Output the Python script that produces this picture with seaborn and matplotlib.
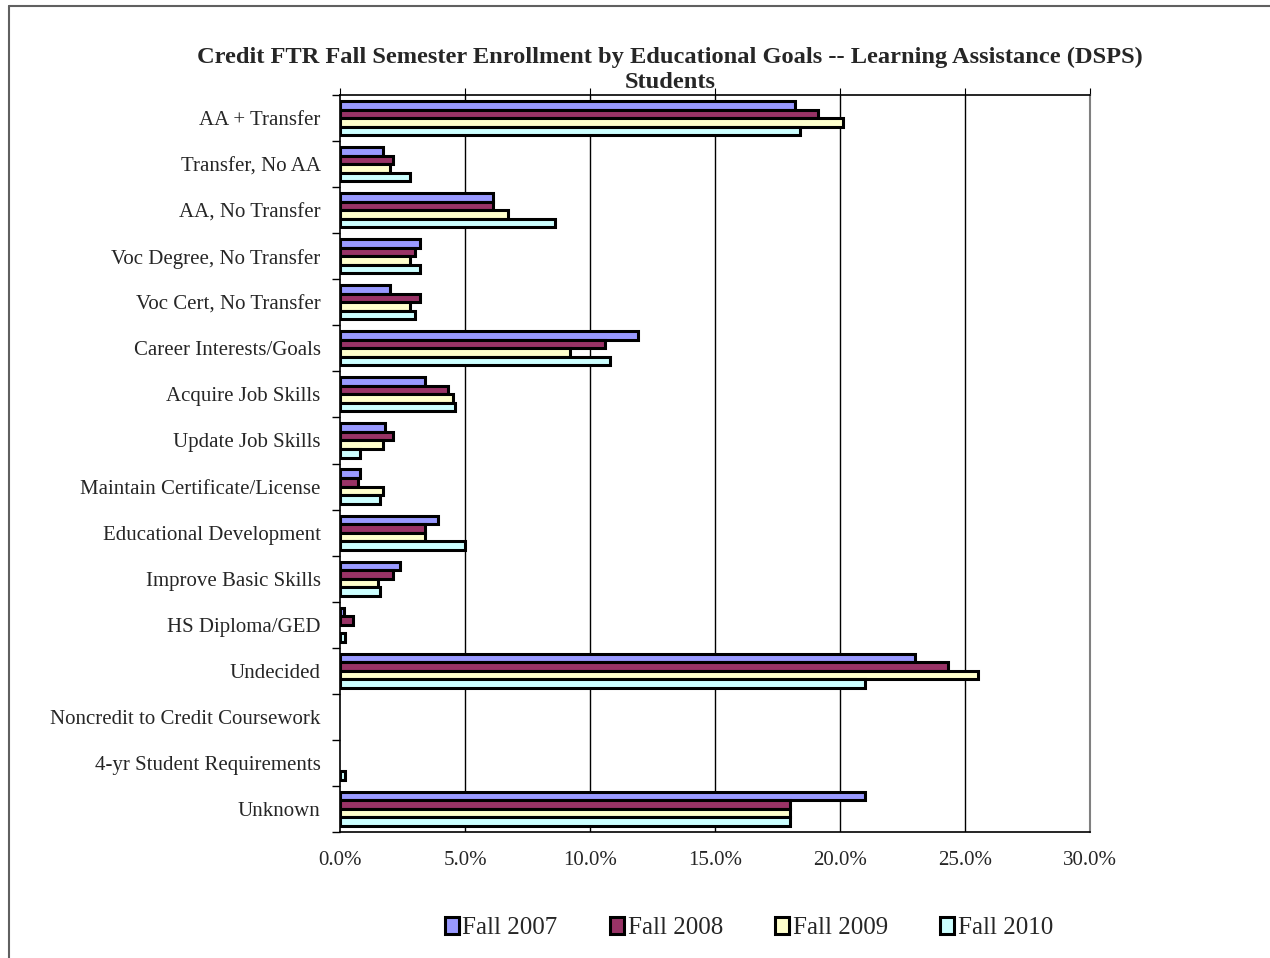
import matplotlib
matplotlib.use("Agg")
import matplotlib.pyplot as plt
import seaborn as sns
import pandas as pd
import numpy as np
from matplotlib.lines import Line2D
from matplotlib.ticker import FixedLocator

categories = ["AA + Transfer", "Transfer, No AA", "AA, No Transfer", "Voc Degree, No Transfer",
              "Voc Cert, No Transfer", "Career Interests/Goals", "Acquire Job Skills",
              "Update Job Skills", "Maintain Certificate/License", "Educational Development",
              "Improve Basic Skills", "HS Diploma/GED", "Undecided",
              "Noncredit to Credit Coursework", "4-yr Student Requirements", "Unknown"]
years = ["Fall 2007", "Fall 2008", "Fall 2009", "Fall 2010"]
fall_2007 = [18.2, 1.7, 6.1, 3.2, 2.0, 11.9, 3.4, 1.8, 0.8, 3.9, 2.4, 0.15, 23.0, 0.0, 0.0, 21.0]
fall_2008 = [19.1, 2.1, 6.1, 3.0, 3.2, 10.6, 4.3, 2.1, 0.7, 3.4, 2.1, 0.5, 24.3, 0.0, 0.0, 18.0]
fall_2009 = [20.1, 2.0, 6.7, 2.8, 2.8, 9.2, 4.5, 1.7, 1.7, 3.4, 1.5, 0.0, 25.5, 0.0, 0.0, 18.0]
fall_2010 = [18.4, 2.8, 8.6, 3.2, 3.0, 10.8, 4.6, 0.8, 1.6, 5.0, 1.6, 0.2, 21.0, 0.0, 0.2, 18.0]
colors = ["#9999FF", "#993366", "#FFFFCC", "#CCFFFF"]
x_ticks = [0, 5, 10, 15, 20, 25, 30]

series = [fall_2007, fall_2008, fall_2009, fall_2010]
df = pd.DataFrame({
    "Goal": categories * len(years),
    "Year": [y for y in years for _ in categories],
    "Pct": [v for s in series for v in s],
})

sns.set_style("white")
plt.rcParams["font.family"] = ["Liberation Serif", "DejaVu Serif"]

fig = plt.figure(figsize=(12.7, 9.58), dpi=100)
ax = fig.add_axes([340/1270, 1-832/958, 750/1270, (832-95)/958])

sns.barplot(data=df, x="Pct", y="Goal", hue="Year", order=categories, hue_order=years,
            palette=colors, orient="h", width=0.74, edgecolor="black", linewidth=2.2,
            saturation=1, ax=ax, zorder=3)

# hide edges of zero-length bars (only actual bar containers)
for cont in ax.containers:
    for p in cont:
        if p.get_width() == 0:
            p.set_linewidth(0)

ax.set_xlim(0, 30)
ax.set_ylim(len(categories) - 0.5, -0.5)
ax.set_xticks(x_ticks)
ax.set_xticklabels([f"{v:.1f}%" for v in x_ticks], fontsize=15)
ax.tick_params(axis="x", which="major", bottom=False, top=True, length=5, direction="out",
               labelbottom=True, labeltop=False, pad=9, color="black")
ax.yaxis.set_minor_locator(FixedLocator(np.arange(-0.5, len(categories), 1)))
ax.tick_params(axis="y", which="major", length=0, labelsize=15, pad=14)
ax.tick_params(axis="y", which="minor", length=6, direction="out", width=1, color="black", left=True)
ax.set_xlabel("")
ax.set_ylabel("")
for v in x_ticks[1:-1]:
    ax.axvline(v, color="black", lw=1, zorder=1)
for s in ["left", "top", "bottom"]:
    ax.spines[s].set_color("black")
    ax.spines[s].set_linewidth(1.2)
ax.spines["right"].set_color("#808080")
ax.spines["right"].set_linewidth(1.5)
for s in ax.spines.values():
    s.set_zorder(4)

handles, labels = ax.get_legend_handles_labels()
ax.get_legend().remove()
for h in handles:
    h.set_edgecolor("black")
    h.set_linewidth(2.2)
fig.legend(handles, labels, loc="center", bbox_to_anchor=(749/1270, 1-928/958), ncol=4,
           frameon=False, fontsize=18, handlelength=0.55, handleheight=0.7, handletextpad=0.15,
           columnspacing=2.1)

fig.text(670/1270, 1-57/958, "Credit FTR Fall Semester Enrollment by Educational Goals -- Learning Assistance (DSPS)",
         ha="center", va="center", fontsize=17.6, fontweight="bold")
fig.text(670/1270, 1-82/958, "Students", ha="center", va="center", fontsize=17.6, fontweight="bold")

fig.add_artist(Line2D([9/1270, 1], [1-6/958, 1-6/958], color="#606060", lw=1.5, transform=fig.transFigure))
fig.add_artist(Line2D([9/1270, 9/1270], [0, 1-6/958], color="#606060", lw=1.5, transform=fig.transFigure))

fig.savefig("out.png", dpi=100)
